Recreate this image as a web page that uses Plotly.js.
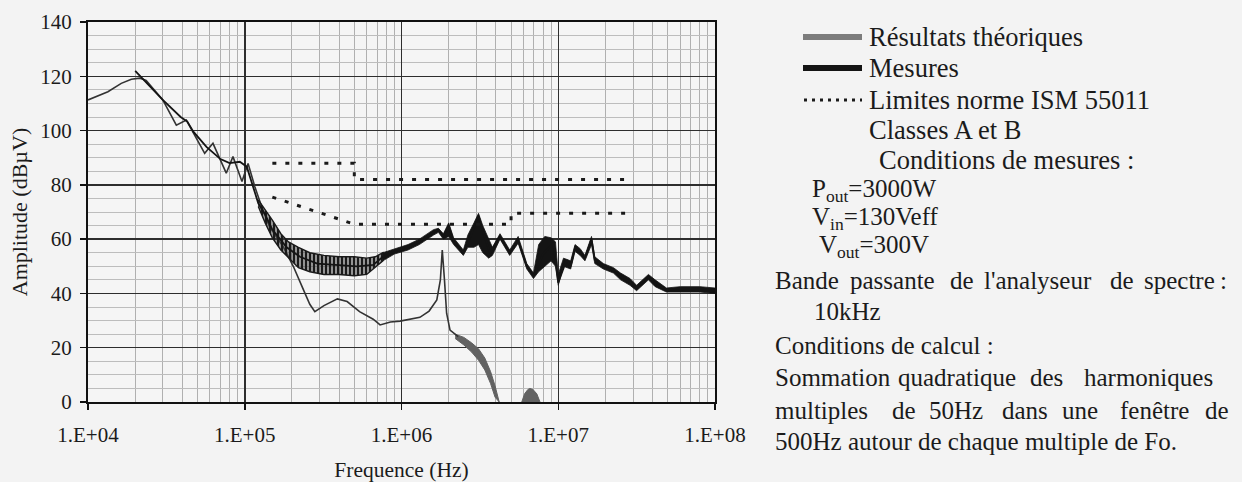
<!DOCTYPE html>
<html><head><meta charset="utf-8">
<script src="https://cdn.plot.ly/plotly-3.0.1.min.js"></script>
<style>html,body{margin:0;padding:0;background:#f3f3f3;}#chart{width:1242px;height:482px;}</style>
</head><body><div id="chart"></div>
<script>
// ---- Data ----
// Résultats théoriques (thin line)
const thF = [1.0e4,1.34e4,1.63e4,1.89e4,2.14e4,2.35e4,3.0e4,3.3e4,3.66e4,4.24e4,5.55e4,6.27e4,7.62e4,8.41e4,9.6e4,1.05e5,1.16e5,1.28e5,1.44e5,1.76e5,2.04e5,2.37e5,2.6e5,2.8e5,3.2e5,3.9e5,4.5e5,5.4e5,6.6e5,7.3e5,8.5e5,9.8e5,1.31e6,1.5e6,1.68e6,1.77e6,1.82e6,1.88e6,1.94e6,2.04e6,2.3e6];
const thV = [111.3,114.3,117.4,118.9,119.3,118.5,111.3,107,102,103.9,91.6,95.3,84.3,90.4,81.2,87.9,79.3,72,64.6,57.2,50,41.3,36,33.3,35.5,38,37,33.3,30.5,28.4,29.5,29.8,31.2,33.5,37.6,45,56,45,32.7,26.5,24.1];
// Résultats théoriques: dense band (upper / lower envelope)
const thBandF  = [2.2e6,2.5e6,2.8e6,3.1e6,3.4e6,3.7e6,3.95e6,4.2e6];
const thBandHi = [25,23.8,21.8,19.6,16.2,11.2,6,0.6];
const thBandLo = [23.4,21,18.4,15.4,11.8,6.8,1.8,0];
// Résultats théoriques: small bump
const bumpF = [5.85e6,6.1e6,6.4e6,6.6e6,6.9e6,7.3e6,7.65e6];
const bumpV = [0,3,4.6,5,4.6,3,0];
// Mesures (centre line)
const mesF = [2.0e4,3.0e4,3.9e4,4.3e4,4.7e4,5.7e4,7.0e4,8.0e4,9.3e4,1.03e5,1.13e5,1.22e5,1.35e5,1.5e5,1.85e5,2.25e5,2.9e5,4.0e5,5.2e5,6.6e5,7.6e5,9.8e5,1.3e6,1.6e6,1.72e6,1.85e6,2.0e6,2.15e6,2.48e6,2.75e6,3.1e6,3.3e6,3.67e6,4.25e6,4.9e6,5.55e6,6.3e6,6.95e6,8.0e6,9.3e6,1.0e7,1.13e7,1.2e7,1.28e7,1.38e7,1.48e7,1.63e7,1.71e7,1.94e7,2.25e7,2.5e7,2.87e7,3.16e7,3.76e7,4.15e7,4.9e7,6.0e7,8.0e7,1.0e8];
const mesV = [122,111.3,105,103.3,99.6,94,89.5,88,88.5,86.7,79.3,73.2,69,63.5,57,53.5,51,50.5,50,50.5,53.5,56,59,62.5,63.5,61,65,59,55,61,68.5,63,55,61,55,59.5,50,46.5,54.5,58.5,44,52.3,50,57,55.4,53,60,52.3,50,48.6,46.2,44.3,42,46.2,43.7,41.3,42,42,41];
// Mesures: noise envelope, sawtooth part (low frequencies)
const sawF  = [1.22e5,1.35e5,1.5e5,1.7e5,1.9e5,2.2e5,2.6e5,3.2e5,4.0e5,5.0e5,6.0e5,6.8e5,7.6e5];
const sawHi = [74.5,71,67,62,59,57,55,54,53.5,53.5,53,53.5,55];
const sawLo = [72,66,60.5,56,53,49.5,48,47,47,46.5,47,49.5,52];
// Mesures: noise envelope, higher frequencies
const mesBandF  = [7.6e5,9e5,1.1e6,1.3e6,1.6e6,1.72e6,1.85e6,2.0e6,2.15e6,2.48e6,2.65e6,2.9e6,3.1e6,3.3e6,3.6e6,3.8e6,4.25e6,4.9e6,5.55e6,6.3e6,6.95e6,7.5e6,8.2e6,9.0e6,9.6e6,1.0e7,1.08e7,1.2e7,1.28e7,1.38e7,1.48e7,1.63e7,1.71e7,1.94e7,2.25e7,2.5e7,2.87e7,3.16e7,3.76e7,4.15e7,4.9e7,6e7,8e7,1e8];
const mesBandHi = [55,56.5,58,60,63.5,64,62,66,60.5,56,61.5,66,69.5,65,60,57,62,56,61,51,47.5,58,61,60.5,59,47,53,52,58,56.5,54,61,53.5,51,49.5,47.5,45.5,43,47,45,42,42.5,42.5,42];
const mesBandLo = [52,54.5,56,58,61.5,62.5,60,61,58,54,57,57,58,55,53,54,60,54,58.5,49,45.5,48,50,52,50,43,50,49,55.5,54,52,58,51,49,47.5,45,43,41,45,42.5,40.5,40.5,40.5,40];
// Limites norme ISM 55011 (classes A et B)
const limAF = [1.5e5,5e5,5e5,3e7];
const limAV = [88,88,82,82];
const limBF = [1.5e5,5e5,5e6,5e6,3e7];
const limBV = [75.5,65.5,65.5,69.5,69.5];
// Axis ticks
const xTickVals = [1e4,1e5,1e6,1e7,1e8];
const xTickText = ['1.E+04','1.E+05','1.E+06','1.E+07','1.E+08'];
const xMinor = [];
for (let e=4;e<8;e++){for(let m=2;m<10;m++){xMinor.push(m*Math.pow(10,e));}}

// ---- Geometry helpers (pixels -> paper) ----
const L=88,R=715,T=22,B=402;
const px = x => (x-L)/(R-L);
const py = y => (B-y)/(B-T);
const FONT = 'Liberation Serif, Times New Roman, serif';
const INK = '#1b1b1b';

const band = (f,hi,lo) => ({x:f.concat(f.slice().reverse()), y:hi.concat(lo.slice().reverse())});
const tb = band(thBandF,thBandHi,thBandLo);
const sb = band(sawF,sawHi,sawLo);
const mb = band(mesBandF,mesBandHi,mesBandLo);

const traces = [
  {x:tb.x,y:tb.y,mode:'lines',fill:'toself',fillcolor:'#626262',line:{color:'#626262',width:1},hoverinfo:'skip',showlegend:false},
  {x:bumpF,y:bumpV,mode:'lines',fill:'tozeroy',fillcolor:'#626262',line:{color:'#626262',width:1},showlegend:false},
  {x:thF,y:thV,mode:'lines',line:{color:'#333333',width:1.6},name:'Résultats théoriques',showlegend:false},
  {x:sb.x,y:sb.y,mode:'lines',fill:'toself',fillcolor:'rgba(0,0,0,0)',
    fillpattern:{shape:'|',size:4,solidity:0.6,fgcolor:'#1a1a1a',bgcolor:'rgba(80,80,80,0.4)'},
    line:{color:'#1a1a1a',width:1.4},hoverinfo:'skip',showlegend:false},
  {x:mb.x,y:mb.y,mode:'lines',fill:'toself',fillcolor:'#141414',line:{color:'#141414',width:0.8},hoverinfo:'skip',showlegend:false},
  {x:mesF,y:mesV,mode:'lines',line:{color:'#141414',width:1.8},name:'Mesures',showlegend:false},
  {x:limAF,y:limAV,mode:'lines',line:{color:'#1a1a1a',width:3,dash:'4px,9px'},name:'Classe A',showlegend:false},
  {x:limBF,y:limBV,mode:'lines',line:{color:'#1a1a1a',width:3,dash:'4px,9px'},name:'Classe B',showlegend:false}
];

const ann = [];
function txt(t,x,y,size){ann.push({text:t,xref:'paper',yref:'paper',x:px(x),y:py(y),xanchor:'left',yanchor:'middle',showarrow:false,font:{family:FONT,size:size,color:INK}});}
txt('Résultats théoriques',867,37,26.5);
txt('Mesures',867,68,26.5);
txt('Limites norme ISM 55011',867,100,26.5);
txt('Classes A et B',867,130,26.5);
txt('Conditions de mesures :',877,160,26.5);
txt('P<sub>out</sub>=3000W',810,190,25);
txt('V<sub>in</sub>=130Veff',810,219,25);
txt('V<sub>out</sub>=300V',817,247,25);
// justified paragraph lines, word by word
const lineBande = [['Bande',773],['passante',848],['de',948],["l'analyseur",982],['de',1108],['spectre',1142],[':',1218]];
const line1 = [['Sommation',773],['quadratique',896],['des',1028],['harmoniques',1082]];
const line2 = [['multiples',773],['de',890],['50Hz',927],['dans',1000],['une',1060],['fenêtre',1118],['de',1203]];
lineBande.forEach(w=>txt(w[0],w[1],280,25));
txt('10kHz',812,311,25);
txt('Conditions de calcul :',773,345,25);
line1.forEach(w=>txt(w[0],w[1],377,25));
line2.forEach(w=>txt(w[0],w[1],410,25));
txt('500Hz autour de chaque multiple de Fo.',773,441,25);

const shapes = [
  {type:'line',xref:'paper',yref:'paper',x0:px(803),x1:px(862),y0:py(37),y1:py(37),line:{color:'#7c7c7c',width:6}},
  {type:'line',xref:'paper',yref:'paper',x0:px(803),x1:px(862),y0:py(68),y1:py(68),line:{color:'#141414',width:6}},
  {type:'line',xref:'paper',yref:'paper',x0:px(804),x1:px(862),y0:py(100),y1:py(100),line:{color:'#1a1a1a',width:3,dash:'3px,5px'}}
];

const layout = {
  width:1242,height:482,autosize:false,
  margin:{l:L,r:1242-R,t:T,b:482-B,pad:0},
  paper_bgcolor:'#f3f3f3',plot_bgcolor:'#f5f5f5',
  font:{family:FONT,color:INK,size:20},
  showlegend:false,
  xaxis:{type:'log',range:[4,8],tickmode:'array',tickvals:xTickVals,ticktext:xTickText,
    showgrid:true,gridcolor:'#2e2e2e',gridwidth:1.5,
    minor:{tickmode:'array',tickvals:xMinor,showgrid:true,gridcolor:'#b0b0b0',gridwidth:1,ticks:''},
    showline:true,mirror:true,linecolor:'#111',linewidth:2,
    ticks:'outside',ticklen:6,tickwidth:1.5,tickcolor:'#111',ticklabelstandoff:7,
    tickfont:{family:FONT,size:21,color:INK},zeroline:false,
    title:{text:'Frequence (Hz)',font:{family:FONT,size:21.5,color:INK},standoff:18}},
  yaxis:{range:[0,140],dtick:20,tick0:0,
    showgrid:true,gridcolor:'#2e2e2e',gridwidth:1.5,
    minor:{dtick:5,showgrid:true,gridcolor:'#bdbdbd',gridwidth:1,ticks:''},
    showline:true,mirror:true,linecolor:'#111',linewidth:2,
    ticks:'outside',ticklen:6,tickwidth:1.5,tickcolor:'#111',ticklabelstandoff:4,
    tickfont:{family:FONT,size:21,color:INK},zeroline:false,
    title:{text:'Amplitude (dBµV)',font:{family:FONT,size:22,color:INK},standoff:7}},
  annotations:ann,
  shapes:shapes
};
Plotly.newPlot('chart',traces,layout,{displayModeBar:false,staticPlot:true});
</script></body></html>
